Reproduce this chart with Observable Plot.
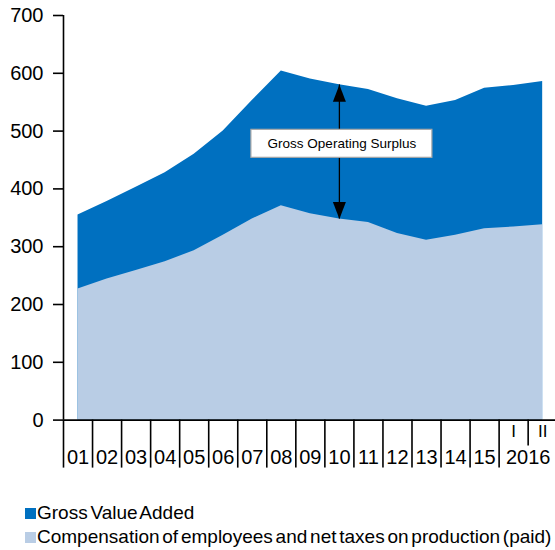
<!DOCTYPE html>
<html>
<head>
<meta charset="utf-8">
<script src="https://cdn.jsdelivr.net/npm/d3@7"></script>
<script src="https://cdn.jsdelivr.net/npm/@observablehq/plot@0.6"></script>
<style>
  body { margin: 0; background: #fff; font-family: "Liberation Sans", Arial, sans-serif; }
  #wrap { position: relative; width: 555px; height: 550px; overflow: hidden; }
  #legend { position: absolute; left: 25px; top: 501px; font-size: 19px; letter-spacing: 0; word-spacing: -2.5px; color: #000; }
  .row { display: flex; align-items: center; height: 24px; white-space: nowrap; }
  .sw { width: 11px; height: 11px; margin-right: 1px; }
</style>
</head>
<body>
<div id="wrap">
  <div id="chart"></div>
  <div id="legend"></div>
</div>
<script>
// ---- data ----
const periods = ["01","02","03","04","05","06","07","08","09","10","11","12","13","14","15","2016 I","2016 II"];
const gva  = [355, 378, 403, 428, 460, 500, 553, 604, 590, 580, 572, 556, 543, 553, 574, 579, 586];
const comp = [227, 244, 259, 274, 293, 320, 348, 371, 357, 348, 342, 323, 311, 320, 331, 334, 338];
const yearLabels = ["01","02","03","04","05","06","07","08","09","10","11","12","13","14","15","2016"];
const subLabels = ["I","II"];
const yTicks = [0, 100, 200, 300, 400, 500, 600, 700];
const seriesNames = ["Gross Value Added", "Compensation of employees and net taxes on production (paid)"];
const annLabel = "Gross Operating Surplus";
const annPeriod = "10";
const annY = 478;

const dark = "#0070c0";
const light = "#b9cde5";

const data = periods.map((p, i) => ({i, p, gva: gva[i], comp: comp[i]}));
const n = periods.length;
const annIdx = periods.indexOf(annPeriod);

// tick positions (band boundaries) and label positions
const longTicks = d3.range(0, 16).map(k => k - 0.5);
const shortTicks = [15.5];
const yearPos = yearLabels.map((d, k) => k < 15 ? k : 15.5);
const subPos = [15, 16];
const yearAt = new Map(yearPos.map((p, k) => [p, yearLabels[k]]));
const subAt = new Map(subPos.map((p, k) => [p, subLabels[k]]));

const upHead = { draw(ctx) { ctx.moveTo(0, 0); ctx.lineTo(-6.5, 17); ctx.lineTo(6.5, 17); ctx.closePath(); } };
const downHead = { draw(ctx) { ctx.moveTo(0, 0); ctx.lineTo(-6.5, -17); ctx.lineTo(6.5, -17); ctx.closePath(); } };

const chart = Plot.plot({
  width: 555,
  height: 478,
  marginLeft: 63,
  marginRight: 0,
  marginTop: 15,
  marginBottom: 58.4,
  style: { fontFamily: '"Liberation Sans", Arial, sans-serif', color: "#000", background: "#fff", overflow: "visible" },
  x: { domain: [-0.5, n - 0.5], range: [63, 556.7], label: null },
  y: { domain: [0, 700], range: [419.6, 15], label: null },
  marks: [
    Plot.areaY(data, { x: "i", y: "gva", fill: dark }),
    Plot.areaY(data, { x: "i", y: "comp", fill: light }),
    Plot.ruleX([-0.5], { y1: 0, y2: 700, stroke: "#000", strokeWidth: 1.6 }),
    Plot.ruleY([0], { stroke: "#000", strokeWidth: 1.6 }),
    Plot.axisY({ ticks: yTicks, tickSize: 10, tickPadding: 10, fontSize: 20, strokeWidth: 1.6, tickFormat: d => d, label: null }),
    Plot.axisX({ ticks: longTicks, tickSize: 48, tickFormat: () => "", strokeWidth: 1.6, label: null }),
    Plot.axisX({ ticks: shortTicks, tickSize: 26, tickFormat: () => "", strokeWidth: 1.6, label: null }),
    Plot.axisX({ ticks: yearPos, tickSize: 0, tickPadding: 30, fontSize: 20, tickFormat: d => yearAt.get(d), label: null }),
    Plot.axisX({ ticks: subPos, tickSize: 0, tickPadding: 5, fontSize: 17, tickFormat: d => subAt.get(d), label: null }),
    // annotation arrow
    Plot.ruleX([annIdx], { y1: comp[annIdx], y2: gva[annIdx], stroke: "#000", strokeWidth: 1.3 }),
    Plot.dot([annIdx], { x: d => d, y: gva[annIdx], symbol: upHead, fill: "#000", stroke: null }),
    Plot.dot([annIdx], { x: d => d, y: comp[annIdx], symbol: downHead, fill: "#000", stroke: null }),
    Plot.rect([annIdx], { x1: d => d, x2: d => d, y1: annY, y2: annY, insetLeft: -88, insetRight: -93, insetTop: -14, insetBottom: -14, fill: "#fff", stroke: "#a6a6a6", strokeWidth: 1.2 }),
    Plot.text([annLabel], { x: annIdx, y: annY, text: d => d, dx: 2.5, fontSize: 13.5, fill: "#000" })
  ]
});
document.getElementById("chart").appendChild(chart);

const colors = [dark, light];
const legend = document.getElementById("legend");
seriesNames.forEach((name, k) => {
  const row = document.createElement("div");
  row.className = "row";
  const sw = document.createElement("div");
  sw.className = "sw";
  sw.style.background = colors[k];
  const t = document.createElement("span");
  t.textContent = name;
  row.appendChild(sw);
  row.appendChild(t);
  legend.appendChild(row);
});
</script>
</body>
</html>
